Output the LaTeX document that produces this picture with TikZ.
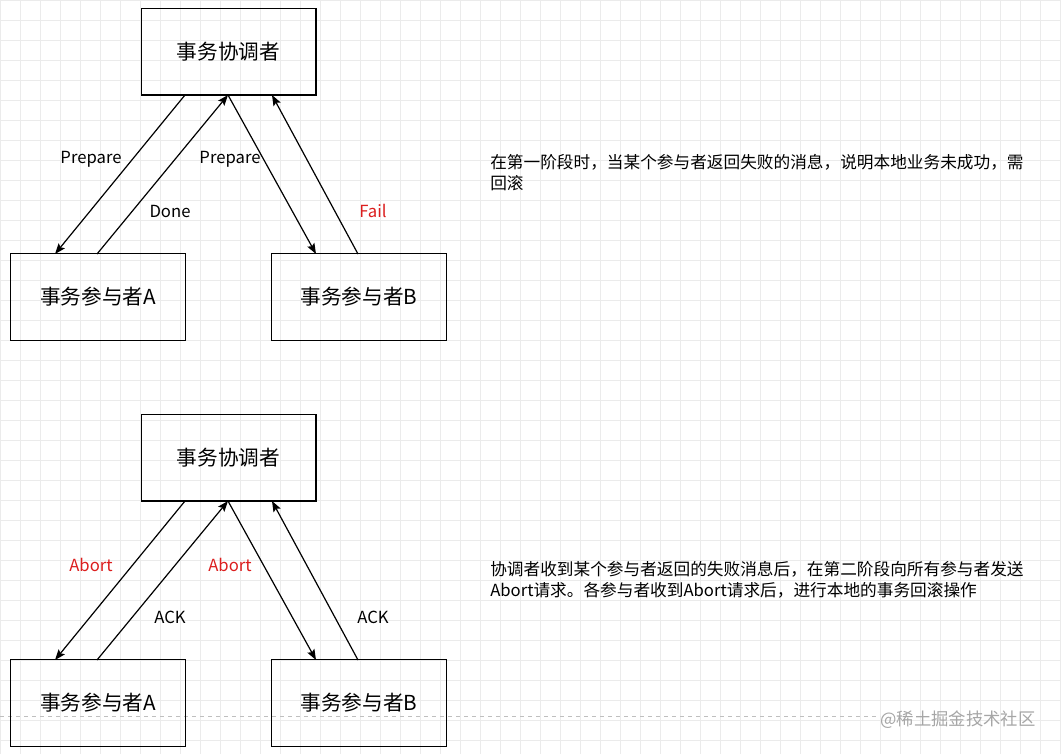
\documentclass[tikz,border=0pt]{standalone}
\usepackage{fontspec}
\usetikzlibrary{arrows.meta}
\setmainfont{Noto Sans CJK SC}
\begin{document}
\begin{tikzpicture}[x=0.75pt,y=-0.75pt,
  box/.style={draw,line width=1pt,minimum width=131pt,minimum height=65pt,font=\fontsize{15.5}{18}\selectfont,inner sep=0pt},
  arr/.style={-{Stealth[length=8pt,width=6pt,inset=1.5pt]},line width=0.9pt},
  lbl/.style={font=\fontsize{12.5}{15}\selectfont},
  txt/.style={font=\fontsize{12.5}{16}\selectfont},
  red/.style={text={rgb,255:red,220;green,30;blue,30}}]
\useasboundingbox (0,0) rectangle (1061,754);
\fill[white] (0,0) rectangle (1061,754);
\draw[black!8,line width=0.5pt,step=15pt] (0,0) grid (1061,754);
\draw[black!25,dashed,line width=0.5pt] (0,716) -- (880,716);
\foreach \yy/\s in {0/t,406/b}{
  \node[box] (c\s) at (228.5,51.5+\yy) {事务协调者};
  \node[box] (a\s) at (98,297+\yy) {事务参与者A};
  \node[box] (p\s) at (359,297+\yy) {事务参与者B};
  \coordinate (c1\s) at (185,95+\yy); \coordinate (c2\s) at (228,95+\yy); \coordinate (c3\s) at (272,95+\yy);
  \coordinate (a1\s) at (55,254+\yy); \coordinate (a2\s) at (97,254+\yy);
  \coordinate (b1\s) at (316,254+\yy); \coordinate (b2\s) at (358,254+\yy);
  \draw[arr] (c1\s) -- (a1\s);
  \draw[arr] (a2\s) -- (c2\s);
  \draw[arr] (c2\s) -- (b1\s);
  \draw[arr] (b2\s) -- (c3\s);
}
\node[lbl] (l1) at (91,159) {Prepare};
\node[lbl] (l2) at (170,211) {Done};
\node[lbl] (l3) at (230,159) {Prepare};
\node[lbl,red] (l4) at (373,211) {Fail};
\node[lbl,red] (l5) at (91,565) {Abort};
\node[lbl] (l6) at (170,617) {ACK};
\node[lbl,red] (l7) at (230,565) {Abort};
\node[lbl] (l8) at (373,617) {ACK};
\node[txt,anchor=north west,align=left,inner sep=0pt] (t1) at (490,154) {在第一阶段时，当某个参与者返回失败的消息，说明本地业务未成功，需\\回滚};
\node[txt,anchor=north west,align=left,inner sep=0pt] (t2) at (490,561) {协调者收到某个参与者返回的失败消息后，在第二阶段向所有参与者发送\\Abort请求。各参与者收到Abort请求后，进行本地的事务回滚操作};
\node[font=\fontsize{13}{15}\selectfont,text=black!35] (wm) at (958,720) {@稀土掘金技术社区};
\end{tikzpicture}
\end{document}
